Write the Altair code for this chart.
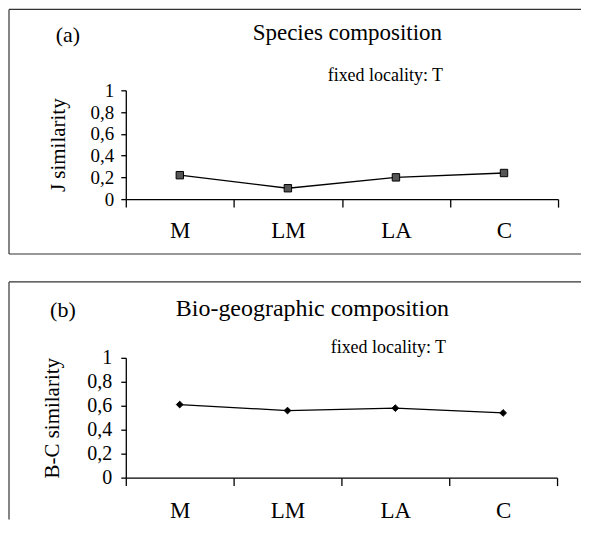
import altair as alt
import pandas as pd

sites = ["M", "LM", "LA", "C"]
j_similarity = [0.22, 0.10, 0.20, 0.24]
bc_similarity = [0.61, 0.56, 0.58, 0.54]
y_ticks = [0, 0.2, 0.4, 0.6, 0.8, 1]

FONT = "Liberation Serif"
one = pd.DataFrame({"k": [0]})


def panel(values, w, h, ytitle, ylab_size, ylab_pad, ytitle_x, ytitle_size,
          xlab_size, xlab_pad, shape, msize, mfill, tag, tag_xy, title, title_xy,
          title_size, sub_xy, frame, bottom_line):
    df = pd.DataFrame({"site": sites, "value": values})
    x = alt.X("site:N", sort=sites,
              scale=alt.Scale(type="band", paddingInner=0, paddingOuter=0),
              axis=alt.Axis(title=None, labelAngle=0, tickBand="extent", tickSize=8,
                            labelFontSize=xlab_size, labelFont=FONT, labelColor="black",
                            labelBaseline="alphabetic", labelPadding=xlab_pad,
                            domainColor="black", tickColor="black", domainWidth=1.3,
                            tickWidth=1.3))
    y = alt.Y("value:Q", scale=alt.Scale(domain=[0, 1]),
              axis=alt.Axis(values=y_ticks, title=ytitle, tickSize=5,
                            labelExpr="datum.value == 0 ? '0' : datum.value == 1 ? '1' : replace(format(datum.value, '.1f'), '.', ',')",
                            labelFontSize=ylab_size, labelFont=FONT, labelColor="black",
                            labelPadding=ylab_pad, domainColor="black", tickColor="black",
                            domainWidth=1.3, tickWidth=1.3,
                            titleFont=FONT, titleFontSize=ytitle_size, titleFontWeight="normal",
                            titleColor="black", titleX=ytitle_x, titleY=h / 2,
                            titleAngle=-90, titleAlign="center", titleBaseline="middle"))
    base = alt.Chart(df).encode(x=x, y=y)
    line = base.mark_line(color="black", strokeWidth=1.3)
    pts = base.mark_point(shape=shape, size=msize, filled=True, fill=mfill,
                          stroke="black", strokeWidth=1, opacity=1)

    def txt(s, xy, size):
        return alt.Chart(one).mark_text(text=s, font=FONT, fontSize=size, color="black",
                                        align="center", baseline="alphabetic").encode(
            x=alt.value(xy[0]), y=alt.value(xy[1]))

    L, T, R, B = frame
    rules = [
        alt.Chart(one).mark_rule(color="#333", strokeWidth=1.2).encode(
            x=alt.value(L), y=alt.value(T), y2=alt.value(B)),
        alt.Chart(one).mark_rule(color="#333", strokeWidth=1.2).encode(
            x=alt.value(L), x2=alt.value(R), y=alt.value(T)),
    ]
    if bottom_line:
        rules.append(alt.Chart(one).mark_rule(color="#333", strokeWidth=1.2).encode(
            x=alt.value(L), x2=alt.value(R), y=alt.value(B)))
    return alt.layer(
        *rules,
        line, pts,
        txt(tag, tag_xy, 22),
        txt(title, title_xy, title_size),
        txt("fixed locality: T", sub_xy, 18),
    ).properties(width=w, height=h)


pa = panel(j_similarity, 433, 109, "J similarity", 19, 7, -67, 21,
           23, 30, "square", 55, "#555555", "(a)", (-58, -48),
           "Species composition", (222, -50), 23, (260, -9),
           (-117, -81, 456, 164), True)
pb = panel(bc_similarity, 432, 120, "B-C similarity", 20, 9, -73, 21,
           23, 32, "diamond", 45, "black", "(b)", (-63, -41),
           "Bio-geographic composition", (187, -42), 24, (263, -5),
           (-117, -76, 456, 162), False)

chart = alt.VConcatChart(vconcat=[pa, pb], spacing=26,
                         padding={"left": 0, "top": 0, "right": 0, "bottom": 0}
                         ).configure_view(stroke=None).configure_axis(grid=False)

chart.save("out.html", embed_options={"renderer": "svg", "actions": False})
